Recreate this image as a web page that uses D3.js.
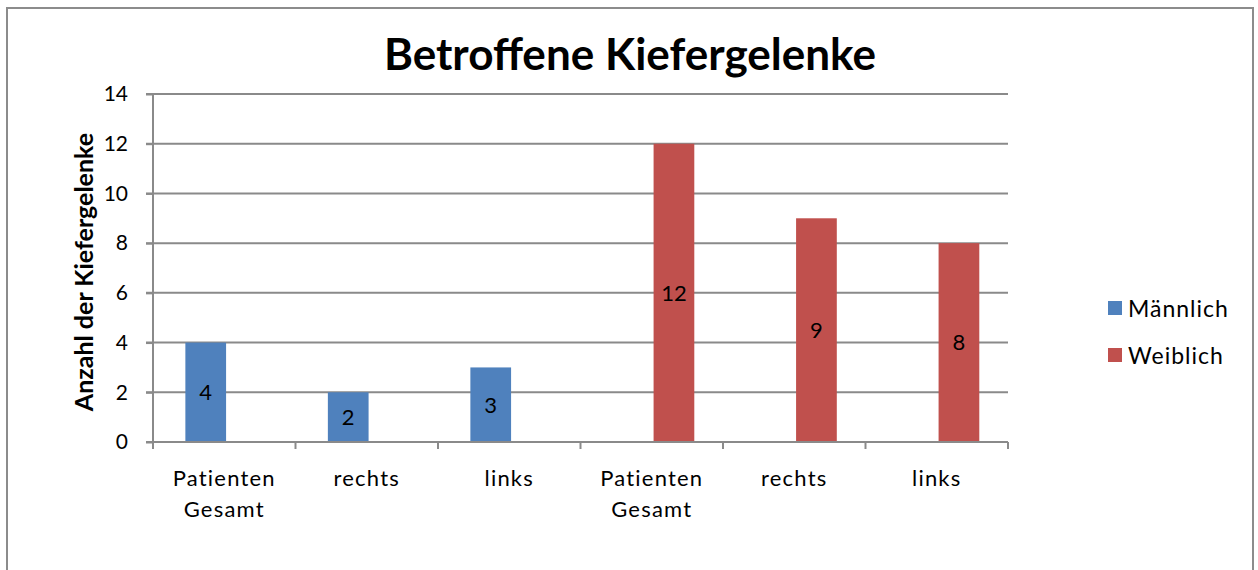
<!DOCTYPE html>
<html>
<head>
<meta charset="utf-8">
<script src="https://cdn.jsdelivr.net/npm/d3@7"></script>
<style>
  body { margin: 0; background: #fff; }
  svg text { font-family: Lato, "Open Sans", sans-serif; fill: #000; }
</style>
</head>
<body>
<svg id="chart" width="1258" height="570"></svg>
<script>
var categories = ["Patienten Gesamt", "rechts", "links", "Patienten Gesamt ", "rechts ", "links "];
var series = ["Männlich", "Weiblich"];
var maennlich = [4, 2, 3, 0, 0, 0];
var weiblich = [0, 0, 0, 12, 9, 8];
var y_ticks = [0, 2, 4, 6, 8, 10, 12, 14];
var colors = ["#4f81bd", "#c0504d"];

var values = [maennlich, weiblich];
var data = categories.map((c, i) => ({cat: c, vals: series.map((s, j) => ({series: s, idx: j, value: values[j][i]}))}));

var svg = d3.select("#chart");
var margin = {left: 153, right: 250, top: 94, bottom: 128};
var W = 1258, H = 570;
var grid_color = "#8a8a8a";

// outer frame
svg.append("rect")
    .attr("x", 7).attr("y", 8)
    .attr("width", 1246).attr("height", 600)
    .attr("fill", "none")
    .attr("stroke", "#8c8c8c")
    .attr("stroke-width", 2);

var x0 = d3.scaleBand().domain(categories).range([margin.left, W - margin.right]);
var x1 = d3.scaleBand().domain(series).range([0, x0.bandwidth()]).paddingOuter(0.75).align(0.53);
var y = d3.scaleLinear().domain([0, 14]).range([H - margin.bottom, margin.top]);

// gridlines
svg.append("g")
    .selectAll("line")
    .data(y_ticks.filter(d => d > 0))
    .join("line")
    .attr("x1", margin.left - 7).attr("x2", W - margin.right)
    .attr("y1", d => y(d)).attr("y2", d => y(d))
    .attr("stroke", grid_color)
    .attr("stroke-width", 2);

// bars
var groups = svg.append("g")
    .selectAll("g")
    .data(data)
    .join("g")
    .attr("transform", d => `translate(${x0(d.cat)},0)`);

groups.selectAll("rect")
    .data(d => d.vals.filter(v => v.value > 0))
    .join("rect")
    .attr("x", d => x1(d.series))
    .attr("width", x1.bandwidth())
    .attr("y", d => y(d.value))
    .attr("height", d => y(0) - y(d.value))
    .attr("fill", d => colors[d.idx]);

groups.selectAll("text")
    .data(d => d.vals.filter(v => v.value > 0))
    .join("text")
    .attr("x", d => x1(d.series) + x1.bandwidth() / 2)
    .attr("y", d => (y(d.value) + y(0)) / 2)
    .attr("dy", "0.36em")
    .attr("text-anchor", "middle")
    .style("font-size", "22px")
    .text(d => d.value);

// y axis
var yAxis = svg.append("g")
    .attr("transform", `translate(${margin.left},0)`)
    .call(d3.axisLeft(y).tickValues(y_ticks).tickSize(7).tickPadding(18));
yAxis.select(".domain").attr("stroke", grid_color).attr("stroke-width", 2).attr("d", `M0,${y(14)}V${y(0)}`);
yAxis.selectAll(".tick line").attr("stroke", grid_color).attr("stroke-width", 2);
yAxis.selectAll(".tick text").style("font-size", "21px").attr("fill", "#000").attr("font-family", null);

// x axis
var xAxis = svg.append("g")
    .attr("transform", `translate(0,${y(0)})`);
xAxis.append("line")
    .attr("x1", margin.left - 7).attr("x2", W - margin.right)
    .attr("stroke", grid_color).attr("stroke-width", 2);
var edges = categories.map(c => x0(c)).concat([W - margin.right]);
xAxis.selectAll(".xtick")
    .data(edges)
    .join("line")
    .attr("class", "xtick")
    .attr("x1", d => d).attr("x2", d => d)
    .attr("y1", 0).attr("y2", 7)
    .attr("stroke", grid_color).attr("stroke-width", 2);

xAxis.selectAll(".xlabel")
    .data(categories)
    .join("text")
    .attr("class", "xlabel")
    .attr("text-anchor", "middle")
    .attr("y", 44)
    .style("font-size", "22px")
    .style("letter-spacing", "1.2px")
    .each(function(d) {
        var words = d.trim().split(" ");
        var t = d3.select(this);
        words.forEach((w, i) => {
            t.append("tspan")
                .attr("x", x0(d) + x0.bandwidth() / 2)
                .attr("dy", i == 0 ? 0 : 31)
                .text(w);
        });
    });

// y axis title
svg.append("text")
    .attr("transform", `translate(93,${(y(0) + y(14)) / 2 + 4}) rotate(-90)`)
    .attr("text-anchor", "middle")
    .style("font-size", "25px")
    .style("font-weight", "bold")
    .text("Anzahl der Kiefergelenke");

// title
svg.append("text")
    .attr("x", 630)
    .attr("y", 70)
    .attr("text-anchor", "middle")
    .attr("textLength", 492)
    .attr("lengthAdjust", "spacingAndGlyphs")
    .style("font-size", "43px")
    .style("font-weight", "bold")
    .text("Betroffene Kiefergelenke");

// legend
var legend = svg.append("g")
    .selectAll("g")
    .data(series)
    .join("g")
    .attr("transform", (d, i) => `translate(1108,${301 + i * 47})`);
legend.append("rect")
    .attr("width", 14).attr("height", 14)
    .attr("fill", (d, i) => colors[i]);
legend.append("text")
    .attr("x", 20)
    .attr("y", 16)
    .style("font-size", "23px")
    .style("letter-spacing", "1px")
    .text(d => d);
</script>
</body>
</html>
